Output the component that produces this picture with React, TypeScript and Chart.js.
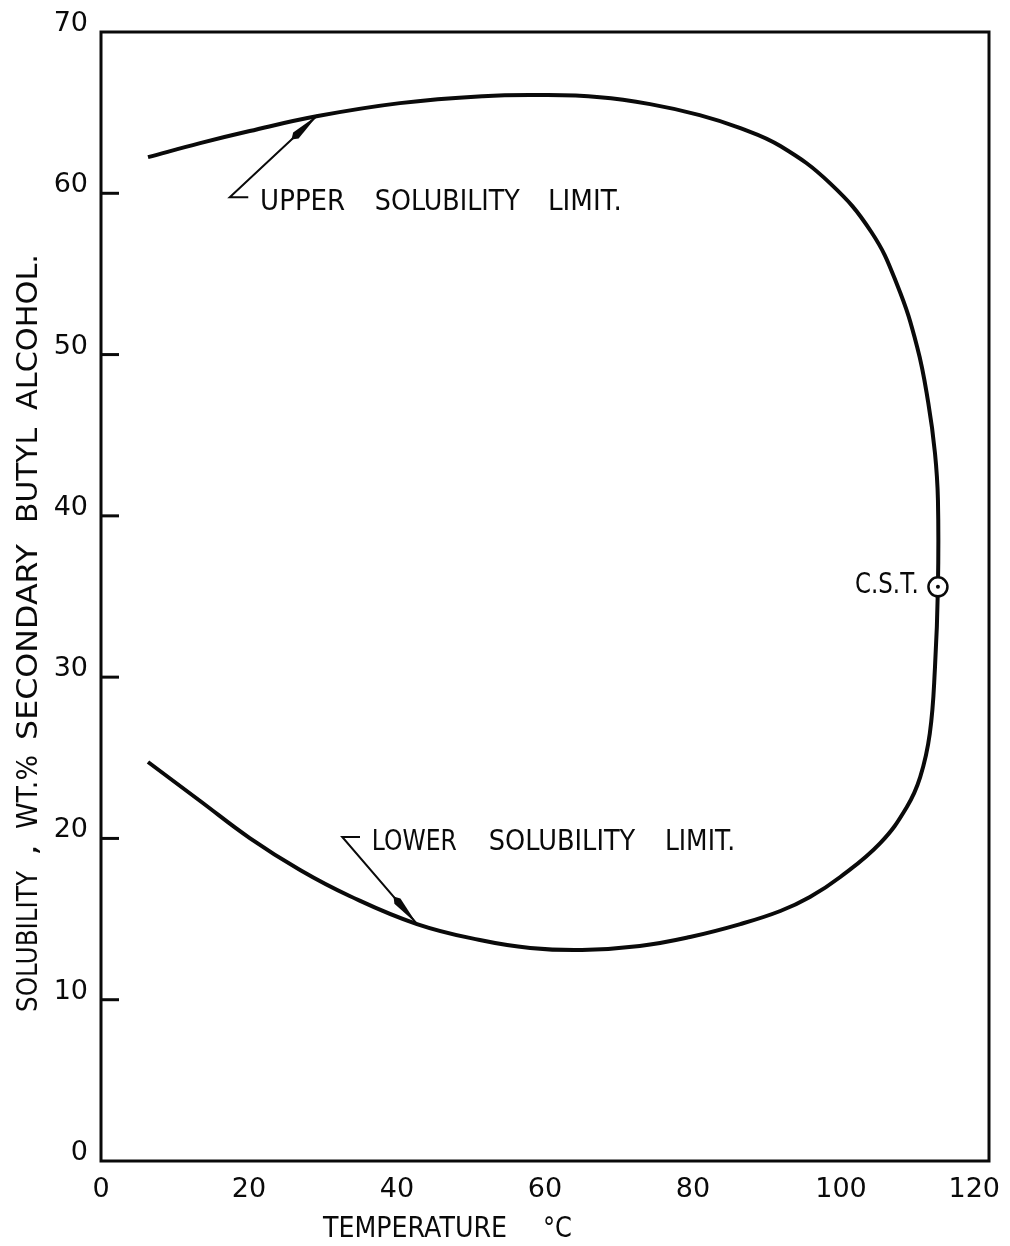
import React, { useEffect, useRef } from "react";
import { Chart, registerables } from "chart.js";

Chart.register(...registerables);

// Solubility boundary of secondary butyl alcohol in water, traced as one loop:
// upper limit (left end to the C.S.T.) then lower limit (C.S.T. back to the left end).
const upperTemp = [6.35, 13.4, 20.1, 29.3, 40.4, 51.6, 59.3, 67.4, 74.2, 80.9, 86.4, 91.8, 98.5, 104.1, 107.6, 110.3, 111.8, 112.7, 113.1, 113.1];
const upperWt = [62.24, 63.11, 63.86, 64.79, 65.59, 66.02, 66.09, 65.96, 65.53, 64.85, 64.04, 62.93, 60.63, 57.6, 54.31, 50.46, 46.99, 43.89, 40.98, 35.6];
const lowerTemp = [112.7, 112.0, 110.7, 108.9, 105.3, 99.9, 95.8, 91.8, 86.4, 79.6, 72.8, 65.0, 58.0, 51.2, 42.7, 33.6, 26.9, 20.1, 13.4, 6.35];
const lowerWt = [30.6, 26.5, 23.8, 21.95, 19.71, 17.61, 16.37, 15.5, 14.69, 13.89, 13.33, 13.08, 13.21, 13.7, 14.69, 16.43, 18.04, 20.02, 22.32, 24.74];

// Critical solution temperature
const cstTemp = [113.1];
const cstWt = [35.6];

const xTickValues = [0, 20, 40, 60, 80, 100, 120];
const yTickValues = [0, 10, 20, 30, 40, 50, 60, 70];

const yTitleWords = ["SOLUBILITY", ",", "WT.%", "SECONDARY", "BUTYL", "ALCOHOL."];
const xTitleWords = ["TEMPERATURE", "°C"];
const upperLabelWords = ["UPPER", "SOLUBILITY", "LIMIT."];
const lowerLabelWords = ["LOWER", "SOLUBILITY", "LIMIT."];
const cstLabel = "C.S.T.";

const INK = "#0a0a0a";
const LETTER_FONT = '29px "DejaVu Sans"';
const TICK_FONT = '27px "DejaVu Sans"';

// draw text squeezed/stretched to span exactly [x0, x1] along its baseline
function fitText(ctx: CanvasRenderingContext2D, text: string, x0: number, x1: number, baseline: number) {
  const w = ctx.measureText(text).width;
  ctx.save();
  ctx.translate(x0, baseline);
  ctx.scale((x1 - x0) / w, 1);
  ctx.fillText(text, 0, 0);
  ctx.restore();
}

function leader(
  ctx: CanvasRenderingContext2D,
  hx0: number, hx1: number, hy: number,
  tx: number, ty: number
) {
  ctx.beginPath();
  ctx.moveTo(hx1, hy);
  ctx.lineTo(hx0, hy);
  ctx.lineTo(tx, ty);
  ctx.stroke();
  // long narrow arrowhead at the curve
  const dx = tx - hx0;
  const dy = ty - hy;
  const len = Math.hypot(dx, dy);
  const ux = dx / len;
  const uy = dy / len;
  const bx = tx - ux * 30;
  const by = ty - uy * 30;
  const nx = -uy * 4;
  const ny = ux * 4;
  ctx.beginPath();
  ctx.moveTo(tx, ty);
  ctx.lineTo(bx + nx, by + ny);
  ctx.lineTo(bx - ux * 6, by - uy * 6);
  ctx.lineTo(bx - nx, by - ny);
  ctx.closePath();
  ctx.fill();
}

const decorations = {
  id: "decorations",
  afterDatasetsDraw(chart: any) {
    const { ctx, chartArea, scales, width } = chart;
    const { left, right, top, bottom } = chartArea;
    const xs = scales.x;
    const ys = scales.y;
    const px = (t: number) => xs.getPixelForValue(t);
    const py = (w: number) => ys.getPixelForValue(w);

    ctx.save();
    ctx.strokeStyle = INK;
    ctx.fillStyle = INK;
    ctx.lineCap = "butt";

    // frame
    ctx.lineWidth = 3;
    ctx.strokeRect(left, top, right - left, bottom - top);

    // inward tick marks on the solubility axis
    yTickValues.forEach((v) => {
      if (v <= 0 || v >= 70) return;
      const y = py(v);
      ctx.beginPath();
      ctx.moveTo(left, y);
      ctx.lineTo(left + 18, y);
      ctx.stroke();
    });

    // temperature tick labels, kept inside the canvas at the right end
    ctx.font = TICK_FONT;
    ctx.textAlign = "center";
    ctx.textBaseline = "alphabetic";
    xTickValues.forEach((v) => {
      const s = String(v);
      const w = ctx.measureText(s).width;
      const cx = Math.min(px(v), width - 10 - w / 2);
      ctx.fillText(s, cx, bottom + 36);
    });

    // leaders
    ctx.lineWidth = 2;
    leader(ctx, px(17.4), px(19.9), py(59.76), px(29.3), py(64.85));
    leader(ctx, px(32.6), px(35.0), py(20.09), px(42.7), py(14.7));

    // curve labels
    ctx.font = LETTER_FONT;
    ctx.textAlign = "left";
    ctx.textBaseline = "alphabetic";
    const upperSpans = [[21.5, 33.0], [37.0, 56.6], [60.4, 70.4]];
    upperLabelWords.forEach((w, i) => fitText(ctx, w, px(upperSpans[i][0]), px(upperSpans[i][1]), py(58.96)));
    const lowerSpans = [[36.6, 48.1], [52.4, 72.2], [76.2, 85.7]];
    lowerLabelWords.forEach((w, i) => fitText(ctx, w, px(lowerSpans[i][0]), px(lowerSpans[i][1]), py(19.28)));
    fitText(ctx, cstLabel, px(101.9), px(110.5), py(35.21));

    // x-axis title
    fitText(ctx, xTitleWords[0], 323, 507, 1237);
    fitText(ctx, xTitleWords[1], 543, 572, 1237);

    // y-axis title, reading upward
    const ySpans = [[1012, 871], [856, 844], [829, 755], [740, 544], [523, 428], [410, 254]];
    yTitleWords.forEach((w, i) => {
      const [y0, y1] = ySpans[i];
      ctx.save();
      ctx.translate(37, y0);
      ctx.rotate(-Math.PI / 2);
      fitText(ctx, w, 0, y0 - y1, 0);
      ctx.restore();
    });

    ctx.restore();
  },
};

export default function App() {
  const canvasRef = useRef<HTMLCanvasElement | null>(null);

  useEffect(() => {
    if (!canvasRef.current) return;
    const loop = [
      ...upperTemp.map((t, i) => ({ x: t, y: upperWt[i] })),
      ...lowerTemp.map((t, i) => ({ x: t, y: lowerWt[i] })),
    ];
    const cst = cstTemp.map((t, i) => ({ x: t, y: cstWt[i] }));

    const chart = new Chart(canvasRef.current, {
      type: "scatter",
      data: {
        datasets: [
          {
            data: cst,
            order: 0,
            pointRadius: 2,
            pointBackgroundColor: INK,
            pointBorderWidth: 0,
            showLine: false,
          },
          {
            data: cst,
            order: 1,
            pointRadius: 9.5,
            pointBackgroundColor: "#ffffff",
            pointBorderColor: INK,
            pointBorderWidth: 2.5,
            showLine: false,
          },
          {
            data: loop,
            order: 2,
            showLine: true,
            tension: 0.42,
            borderColor: INK,
            borderWidth: 4,
            pointRadius: 0,
            fill: false,
          },
        ],
      },
      options: {
        animation: false,
        responsive: true,
        maintainAspectRatio: false,
        layout: { padding: { top: 32, right: 21, left: 0, bottom: 0 } },
        plugins: { legend: { display: false }, tooltip: { enabled: false } },
        scales: {
          x: {
            type: "linear",
            min: 0,
            max: 120,
            afterBuildTicks: (s: any) => {
              s.ticks = xTickValues.map((v) => ({ value: v }));
            },
            afterFit: (s: any) => {
              s.height = 85;
              s.paddingLeft = 0;
              s.paddingRight = 0;
            },
            grid: { display: false },
            border: { display: false },
            ticks: { display: false },
          },
          y: {
            type: "linear",
            min: 0,
            max: 70,
            afterBuildTicks: (s: any) => {
              s.ticks = yTickValues.map((v) => ({ value: v }));
            },
            afterFit: (s: any) => {
              s.width = 101;
              s.paddingTop = 0;
              s.paddingBottom = 0;
            },
            grid: { display: false },
            border: { display: false },
            ticks: { font: { family: "DejaVu Sans", size: 27 }, color: INK, padding: 5, labelOffset: -8 },
          },
        },
      },
      plugins: [decorations],
    } as any);

    return () => chart.destroy();
  }, []);

  return (
    <div style={{ position: "fixed", left: 0, top: 0, width: 1010, height: 1246, background: "#fff" }}>
      <canvas ref={canvasRef} />
    </div>
  );
}
